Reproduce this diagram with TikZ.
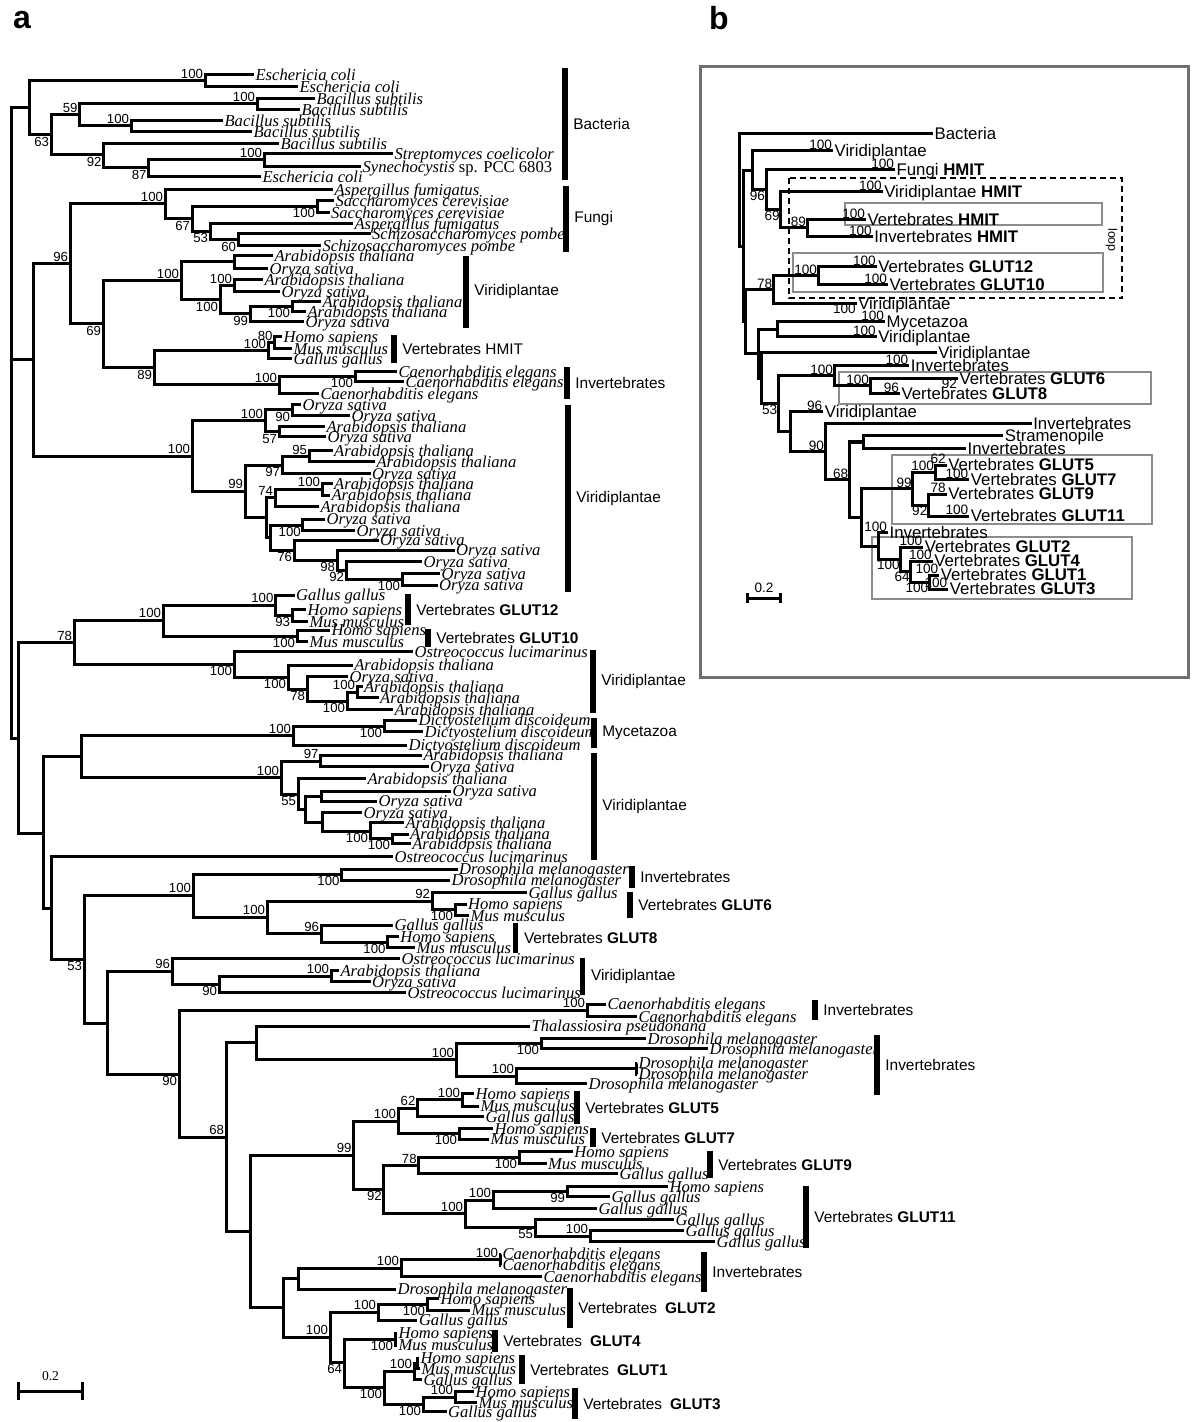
\documentclass[tikz,border=0pt]{standalone}
\usepackage{fontspec}
\setmainfont{Liberation Serif}
\setsansfont{Liberation Sans}
\usetikzlibrary{arrows.meta}
\definecolor{frm}{HTML}{707070}
\definecolor{gbx}{HTML}{8C8C8C}
% inner node: name, parent, x, y, support, label side
\newcommand{\nd}[6]{\coordinate (#1) at (#3,#4); \draw[br] (#2) |- (#1);
  \if\relax\detokenize{#5}\relax\else\node[bs,#6] (#1-bs) at (#1) {#5};\fi}
% leaf: name, parent, x, y, text
\newcommand{\lf}[5]{\node[sp] (#1) at (#3,#4) {#5}; \draw[br] (#2) |- (#1.west);}
% leaf with support value
\newcommand{\lfb}[7]{\node[sp] (#1) at (#3,#4) {#5}; \draw[br] (#2) |- (#1.west);
  \if\relax\detokenize{#6}\relax\else\node[bs,#7] (#1-bs) at (#1.west) {#6};\fi}
% group bar: name, x, top, bottom, label
\newcommand{\grp}[5]{\coordinate (#1t) at (#2,#3); \coordinate (#1b) at (#2,#4);
  \draw[bar] (#1t) -- (#1b); \node[gl] (#1l) at (#2,{(#3+#4)/2}) {#5};}

\begin{document}
\begin{tikzpicture}[
  x=0.5pt, y=-0.5pt,
  br/.style={line width=1.5pt, line join=miter},
  sp/.style={anchor=west, inner sep=0.6pt, font=\fontsize{8.3}{9}\selectfont\itshape, text height=1.6ex, text depth=.3ex},
  bs/.style={font=\sffamily\fontsize{6.6}{7}\selectfont, inner sep=0.8pt},
  bar/.style={line width=2.6pt},
  gl/.style={anchor=west, xshift=4pt, font=\sffamily\fontsize{7.7}{9}\selectfont, inner sep=0pt},
  gbox/.style={draw=gbx, line width=0.9pt},
  panel/.style={font=\sffamily\bfseries\fontsize{16}{18}\selectfont, inner sep=0pt}
]
\path[use as bounding box, fill=white] (0,0) rectangle (1200,1422);
\node[panel] (pa) at (22,20) {a};
\node[panel] (pb) at (719,18) {b};

% ---------- panel a ----------
\coordinate (ar) at (11,423);
% bacteria
\nd{bac}{ar}{29.5}{108}{}{}
\nd{ec}{bac}{205}{81}{100}{above left}
\lf{l1}{ec}{254}{74.5}{Eschericia coli}
\lf{l2}{ec}{298}{87}{Eschericia coli}
\nd{b63}{bac}{51}{135}{63}{below left}
\nd{b59}{b63}{79.5}{115}{59}{above left}
\nd{bs1}{b59}{257}{104}{100}{above left}
\lf{l3}{bs1}{315}{99}{Bacillus subtilis}
\lf{l4}{bs1}{300}{109.5}{Bacillus subtilis}
\nd{bs2}{b59}{131}{126}{100}{above left}
\lf{l5}{bs2}{223}{121}{Bacillus subtilis}
\lf{l6}{bs2}{252}{132}{Bacillus subtilis}
\nd{b92}{b63}{103.5}{155}{92}{below left}
\lf{l7}{b92}{279}{143.5}{Bacillus subtilis}
\nd{b87}{b92}{148.5}{168}{87}{below left}
\nd{st}{b87}{264}{160}{100}{above left}
\lf{l8}{st}{393}{154}{Streptomyces coelicolor}
\lf{l9}{st}{361}{166.5}{Synechocystis \textup{sp. PCC 6803}}
\lf{l10}{b87}{261}{177}{Eschericia coli}
\grp{gbac}{565}{68}{180}{Bacteria}
% fungi, plants, HMIT
\nd{c2}{ar}{33.5}{360}{}{}
\nd{n96}{c2}{70}{264}{96}{above left}
\nd{fun}{n96}{165}{204}{100}{above left}
\lf{l11}{fun}{333}{189.5}{Aspergillus fumigatus}
\nd{f67}{fun}{192}{219}{67}{below left}
\nd{sc}{f67}{317}{206.5}{100}{below left}
\lf{l12}{sc}{334}{200.7}{Saccharomyces cerevisiae}
\lf{l13}{sc}{329.5}{212.3}{Saccharomyces cerevisiae}
\nd{f53}{f67}{210}{231.7}{53}{below left}
\lf{l14}{f53}{353}{223.3}{Aspergillus fumigatus}
\nd{f60}{f53}{238}{240}{60}{below left}
\lf{l15}{f60}{370.5}{234}{Schizosaccharomyces pombe}
\lf{l16}{f60}{321}{246}{Schizosaccharomyces pombe}
\grp{gfun}{566}{186}{252}{Fungi}
\nd{n69}{n96}{103}{324}{69}{below left}
\nd{v1}{n69}{181}{281}{100}{above left}
\nd{v1a}{v1}{234}{262}{}{}
\lf{l17}{v1a}{273}{256}{Arabidopsis thaliana}
\lf{l18}{v1a}{268}{268.3}{Oryza sativa}
\nd{v1c}{v1}{220}{300}{100}{below left}
\nd{v1b}{v1c}{234}{286}{100}{above left}
\lf{l19}{v1b}{263}{280}{Arabidopsis thaliana}
\lf{l20}{v1b}{280}{291.7}{Oryza sativa}
\nd{v99}{v1c}{250}{314}{99}{below left}
\nd{v100}{v99}{292}{306.7}{100}{below left}
\lf{l21}{v100}{321}{301.7}{Arabidopsis thaliana}
\lf{l22}{v100}{306}{311.7}{Arabidopsis thaliana}
\lf{l23}{v99}{304}{321.7}{Oryza sativa}
\grp{gv1}{466}{256}{328}{Viridiplantae}
\nd{n89}{n69}{154}{368}{89}{below left}
\nd{hm}{n89}{268}{350.5}{100}{above left}
\nd{h80}{hm}{274.5}{342.5}{80}{above left}
\lf{l24}{h80}{282}{336.7}{Homo sapiens}
\lf{l25}{h80}{292}{348.3}{Mus musculus}
\lf{l26}{hm}{292}{358.3}{Gallus gallus}
\nd{ce}{n89}{279}{385}{100}{above left}
\nd{ce1}{ce}{355}{376.7}{100}{below left}
\lf{l27}{ce1}{397}{371.7}{Caenorhabditis elegans}
\lf{l28}{ce1}{404}{381.7}{Caenorhabditis elegans}
\lf{l29}{ce}{319}{394}{Caenorhabditis elegans}
\grp{ghm}{394}{335}{363}{Vertebrates HMIT}
\grp{gce}{567}{367}{399}{Invertebrates}
\nd{v2}{c2}{192}{456}{100}{above left}
\nd{v2a}{v2}{265}{421}{100}{above left}
\nd{v90}{v2a}{292}{410}{90}{below left}
\lf{l30}{v90}{301}{405}{Oryza sativa}
\lf{l31}{v90}{350}{415.7}{Oryza sativa}
\nd{v57}{v2a}{279}{432}{57}{below left}
\lf{l32}{v57}{325}{427}{Arabidopsis thaliana}
\lf{l33}{v57}{326}{436.7}{Oryza sativa}
\nd{v99b}{v2}{245}{491}{99}{above left}
\nd{v97}{v99b}{282}{465}{97}{below left}
\nd{v95}{v97}{309}{456.2}{95}{above left}
\lf{l34}{v95}{332.6}{450.7}{Arabidopsis thaliana}
\lf{l35}{v95}{375}{461.7}{Arabidopsis thaliana}
\lf{l36}{v97}{370.5}{473.3}{Oryza sativa}
\nd{vx}{v99b}{266}{517}{}{}
\nd{v74}{vx}{275}{497}{74}{above left}
\nd{v100e}{v74}{322}{489}{100}{above left}
\lf{l37}{v100e}{332.6}{483.3}{Arabidopsis thaliana}
\lf{l38}{v100e}{330}{495}{Arabidopsis thaliana}
\lf{l39}{v74}{319}{506.7}{Arabidopsis thaliana}
\nd{vy}{vx}{270}{537}{}{}
\nd{v100f}{vy}{302.7}{525}{100}{below left}
\lf{l40}{v100f}{325}{519}{Oryza sativa}
\lf{l41}{v100f}{355}{530.7}{Oryza sativa}
\nd{v76}{vy}{294}{550}{76}{below left}
\lf{l42}{v76}{378.6}{540}{Oryza sativa}
\nd{v98}{v76}{337}{560}{98}{below left}
\lf{l43}{v98}{454.5}{550}{Oryza sativa}
\nd{v92}{v98}{346}{570}{92}{below left}
\lf{l44}{v92}{422}{561.7}{Oryza sativa}
\nd{v100g}{v92}{402}{579}{100}{below left}
\lf{l45}{v100g}{440}{573.3}{Oryza sativa}
\lf{l46}{v100g}{437.5}{585}{Oryza sativa}
\grp{gv2}{568}{405}{592}{Viridiplantae}
% GLUT12/10 and the rest
\nd{c3}{ar}{18}{738}{}{}
\nd{n78}{c3}{74}{642.5}{78}{above left}
\nd{g1210}{n78}{163}{620}{100}{above left}
\nd{g12}{g1210}{275.4}{605}{100}{above left}
\lf{l47}{g12}{294.6}{595}{Gallus gallus}
\nd{g93}{g12}{292}{615.5}{93}{below left}
\lf{l48}{g93}{306}{609.3}{Homo sapiens}
\lf{l49}{g93}{308}{621.7}{Mus musculus}
\nd{g10}{g1210}{297}{636}{100}{below left}
\lf{l50}{g10}{330}{630}{Homo sapiens}
\lf{l51}{g10}{308}{641.7}{Mus musculus}
\grp{gg12}{408}{594}{625}{Vertebrates \textbf{GLUT12}}
\grp{gg10}{428}{629}{647}{Vertebrates \textbf{GLUT10}}
\nd{v3}{n78}{234}{664.5}{100}{below left}
\lf{l52}{v3}{413}{651.7}{Ostreococcus lucimarinus}
\nd{v3a}{v3}{288}{677}{100}{below left}
\lf{l53}{v3a}{352.7}{665}{Arabidopsis thaliana}
\nd{v78}{v3a}{307}{689}{78}{below left}
\lf{l54}{v78}{348}{676.7}{Oryza sativa}
\nd{v3b}{v78}{347}{701}{100}{below left}
\nd{v3c}{v3b}{357}{692}{100}{above left}
\lf{l55}{v3c}{362.5}{686.7}{Arabidopsis thaliana}
\lf{l56}{v3c}{378.6}{697.3}{Arabidopsis thaliana}
\lf{l57}{v3b}{393}{709.3}{Arabidopsis thaliana}
\grp{gv3}{593}{650}{713}{Viridiplantae}
\nd{n43}{c3}{43}{833}{}{}
\nd{n81}{n43}{81.7}{756.5}{}{}
\nd{my}{n81}{293}{735.5}{100}{above left}
\nd{my1}{my}{384}{726}{100}{below left}
\lf{l58}{my1}{417}{720}{Dictyostelium discoideum}
\lf{l59}{my1}{423}{731.7}{Dictyostelium discoideum}
\lf{l60}{my}{407}{745}{Dictyostelium discoideum}
\grp{gmy}{594}{718}{748}{Mycetazoa}
\nd{v4}{n81}{281}{777.5}{100}{above left}
\nd{v97b}{v4}{320.5}{761}{97}{above left}
\lf{l61}{v97b}{422}{755}{Arabidopsis thaliana}
\lf{l62}{v97b}{428.6}{766.7}{Oryza sativa}
\nd{v55}{v4}{298}{794}{55}{below left}
\lf{l63}{v55}{366}{778.3}{Arabidopsis thaliana}
\nd{v4a}{v55}{305}{809}{}{}
\nd{v4b}{v4a}{321}{796}{}{}
\lf{l64}{v4b}{451}{791}{Oryza sativa}
\lf{l65}{v4b}{377}{801}{Oryza sativa}
\nd{v4c}{v4a}{322}{822}{}{}
\lf{l66}{v4c}{362}{812.7}{Oryza sativa}
\nd{v4d}{v4c}{370}{831}{100}{below left}
\lf{l67}{v4d}{404}{822.7}{Arabidopsis thaliana}
\nd{v4e}{v4d}{392}{838.7}{100}{below left}
\lf{l68}{v4e}{408.5}{834}{Arabidopsis thaliana}
\lf{l69}{v4e}{410.7}{843.3}{Arabidopsis thaliana}
\grp{gv4}{594}{753}{860}{Viridiplantae}
\nd{n51}{n43}{51.7}{908}{}{}
\lf{l70}{n51}{393}{856.7}{Ostreococcus lucimarinus}
\nd{n53}{n51}{84}{959}{53}{below left}
\nd{g68}{n53}{193}{895}{100}{above left}
\nd{dm}{g68}{341.5}{874.5}{100}{below left}
\lf{l71}{dm}{457.6}{869}{Drosophila melanogaster}
\lf{l72}{dm}{450}{880}{Drosophila melanogaster}
\nd{g68b}{g68}{267}{917}{100}{above left}
\nd{gl6}{g68b}{432}{901}{92}{above left}
\lf{l73}{gl6}{527}{892.7}{Gallus gallus}
\nd{hm6}{gl6}{455}{909.5}{100}{below left}
\lf{l74}{hm6}{466.5}{904}{Homo sapiens}
\lf{l75}{hm6}{469}{915.3}{Mus musculus}
\nd{gl8}{g68b}{321}{933.5}{96}{above left}
\lf{l76}{gl8}{393}{925}{Gallus gallus}
\nd{hm8}{gl8}{387.5}{942}{100}{below left}
\lf{l77}{hm8}{398.7}{936.7}{Homo sapiens}
\lf{l78}{hm8}{415}{947.3}{Mus musculus}
\grp{gdm}{632}{866}{888}{Invertebrates}
\grp{gg6}{630}{892}{918}{Vertebrates \textbf{GLUT6}}
\grp{gg8}{515.6}{923}{953}{Vertebrates \textbf{GLUT8}}
\nd{nq}{n53}{107}{1023}{}{}
\nd{v5}{nq}{172}{971}{96}{above left}
\lf{l79}{v5}{400}{958.3}{Ostreococcus lucimarinus}
\nd{v90b}{v5}{219}{984}{90}{below left}
\nd{v5a}{v90b}{331}{976}{100}{above left}
\lf{l80}{v5a}{339}{970.7}{Arabidopsis thaliana}
\lf{l81}{v5a}{370.5}{981.7}{Oryza sativa}
\lf{l82}{v90b}{406}{992.7}{Ostreococcus lucimarinus}
\grp{gv5}{582.6}{958}{995}{Viridiplantae}
\nd{g90}{nq}{179}{1074}{90}{below left}
\nd{ce2}{g90}{587}{1010}{100}{above left}
\lf{l83}{ce2}{606}{1004}{Caenorhabditis elegans}
\lf{l84}{ce2}{637}{1016.7}{Caenorhabditis elegans}
\grp{gce2}{815}{1000}{1020}{Invertebrates}
\nd{g68c}{g90}{226}{1137}{68}{above left}
\nd{th}{g68c}{256}{1042.5}{}{}
\lf{l85}{th}{530}{1026}{Thalassiosira pseudonana}
\nd{dm2}{th}{456}{1059.5}{100}{above left}
\nd{dm2a}{dm2}{541}{1043}{100}{below left}
\lf{l86}{dm2a}{646}{1038.3}{Drosophila melanogaster}
\lf{l87}{dm2a}{708}{1048.3}{Drosophila melanogaster}
\nd{dm2b}{dm2}{516}{1076}{100}{above left}
\nd{dm2c}{dm2b}{636}{1068.5}{}{}
\lf{l88}{dm2c}{637}{1063}{Drosophila melanogaster}
\lf{l89}{dm2c}{637}{1074}{Drosophila melanogaster}
\lf{l90}{dm2b}{587}{1083.3}{Drosophila melanogaster}
\grp{gdm2}{877}{1035}{1095}{Invertebrates}
\nd{gb}{g68c}{250}{1231}{}{}
\nd{g99}{gb}{353.5}{1155}{99}{above left}
\nd{g100p}{g99}{398}{1121}{100}{above left}
\nd{g62}{g100p}{417.4}{1108}{62}{above left}
\nd{hm5}{g62}{462}{1099.7}{100}{above left}
\lf{l91}{hm5}{474}{1093.3}{Homo sapiens}
\lf{l92}{hm5}{479}{1106}{Mus musculus}
\lf{l93}{g62}{484}{1116.7}{Gallus gallus}
\nd{gl7}{g100p}{459}{1133.7}{100}{below left}
\lf{l94}{gl7}{493}{1128.5}{Homo sapiens}
\lf{l95}{gl7}{489}{1139}{Mus musculus}
\grp{gg5}{577}{1091}{1124}{Vertebrates \textbf{GLUT5}}
\grp{gg7}{593}{1128}{1147}{Vertebrates \textbf{GLUT7}}
\nd{g92}{g99}{383.7}{1189.6}{92}{below left}
\nd{gl9}{g92}{418.6}{1165.4}{78}{above left}
\nd{hm9}{gl9}{519}{1157.5}{100}{below left}
\lf{l96}{hm9}{572.7}{1151.7}{Homo sapiens}
\lf{l97}{hm9}{546.5}{1163.3}{Mus musculus}
\lf{l98}{gl9}{618}{1173.3}{Gallus gallus}
\grp{gg9}{710}{1151}{1178}{Vertebrates \textbf{GLUT9}}
\nd{gl11}{g92}{465}{1213.8}{100}{above left}
\nd{g11a}{gl11}{493}{1200}{100}{above left}
\nd{g11b}{g11a}{567}{1191.7}{99}{below left}
\lf{l99}{g11b}{668}{1186.7}{Homo sapiens}
\lf{l100}{g11b}{610}{1196.7}{Gallus gallus}
\lf{l101}{g11a}{597}{1208.3}{Gallus gallus}
\nd{g55}{gl11}{535}{1227.7}{55}{below left}
\lf{l102}{g55}{674}{1219.3}{Gallus gallus}
\nd{g11c}{g55}{590}{1236}{100}{above left}
\lf{l103}{g11c}{684}{1230.7}{Gallus gallus}
\lf{l104}{g11c}{715}{1241.7}{Gallus gallus}
\grp{gg11}{806}{1186}{1248}{Vertebrates \textbf{GLUT11}}
\nd{gl}{gb}{283}{1307.5}{}{}
\nd{i4}{gl}{298}{1278.5}{}{}
\nd{ce3}{i4}{401}{1268}{100}{above left}
\nd{ce3a}{ce3}{500}{1259.5}{100}{above left}
\lf{l105}{ce3a}{501}{1254}{Caenorhabditis elegans}
\lf{l106}{ce3a}{501}{1265}{Caenorhabditis elegans}
\lf{l107}{ce3}{542}{1276.7}{Caenorhabditis elegans}
\lf{l108}{i4}{396}{1289}{Drosophila melanogaster}
\grp{gce3}{704}{1252}{1292}{Invertebrates}
\nd{gv}{gl}{330}{1337}{100}{above left}
\nd{gl2}{gv}{378}{1312}{100}{above left}
\nd{hm2}{gl2}{427}{1304}{100}{below left}
\lf{l109}{hm2}{439}{1298.3}{Homo sapiens}
\lf{l110}{hm2}{470}{1310}{Mus musculus}
\lf{l111}{gl2}{417.4}{1320}{Gallus gallus}
\grp{gg2}{570}{1288}{1328}{Vertebrates\hspace{4pt}\textbf{GLUT2}}
\nd{n64}{gv}{344}{1362.5}{64}{below left}
\nd{gl4}{n64}{395}{1339}{100}{below left}
\lf{l112}{gl4}{397}{1333}{Homo sapiens}
\lf{l113}{gl4}{397}{1345}{Mus musculus}
\grp{gg4}{495}{1330}{1352}{Vertebrates\hspace{4pt}\textbf{GLUT4}}
\nd{gl13}{n64}{384}{1387.7}{100}{below left}
\nd{gl1}{gl13}{414}{1371}{100}{above left}
\nd{hm1}{gl1}{417}{1363}{}{}
\lf{l114}{hm1}{419}{1358}{Homo sapiens}
\lf{l115}{hm1}{420}{1368.3}{Mus musculus}
\lf{l116}{gl1}{422}{1379.3}{Gallus gallus}
\grp{gg1}{522}{1355}{1384}{Vertebrates\hspace{4pt}\textbf{GLUT1}}
\nd{gl3}{gl13}{423}{1404.4}{100}{below left}
\nd{hm3}{gl3}{455}{1397}{100}{above left}
\lf{l117}{hm3}{474}{1391.7}{Homo sapiens}
\lf{l118}{hm3}{477}{1402.7}{Mus musculus}
\lf{l119}{gl3}{446.5}{1411.7}{Gallus gallus}
\grp{gg3}{575}{1388}{1419}{Vertebrates\hspace{4pt}\textbf{GLUT3}}
% scale bar a
\coordinate (sa1) at (17,1391);
\coordinate (sa2) at (84,1391);
\draw[line width=1.5pt, {Bar[width=9pt]}-{Bar[width=9pt]}] (sa1) -- (sa2);
\node[anchor=south, font=\fontsize{6.8}{8}\selectfont, inner sep=0pt] (sal) at (50.5,1381) {0.2};

% ---------- panel b ----------
\draw[frm, line width=1.5pt] (700,67) rectangle (1188,677);
\begin{scope}[
  sp/.style={anchor=west, inner sep=0.6pt, font=\sffamily\fontsize{8.4}{9}\selectfont, text height=1.5ex, text depth=.25ex},
  bs/.style={font=\sffamily\fontsize{6.8}{7}\selectfont, inner sep=0.3pt}
]
\draw[gbox] (845,203.3) rectangle (1101.7,225);
\draw[gbox] (793.3,252.7) rectangle (1103.3,291.7);
\draw[gbox] (839.3,371.7) rectangle (1151,404);
\draw[gbox] (891.7,455) rectangle (1151.7,524);
\draw[gbox] (871.7,536.7) rectangle (1131.7,599.3);
\draw[line width=1pt, dash pattern=on 3pt off 2pt] (789,178.3) rectangle (1122.3,298.3);
\node[font=\sffamily\fontsize{6.2}{7}\selectfont, rotate=-90, inner sep=0pt] (loop) at (1111.5,240) {loop};
\coordinate (qR) at (739.5,190);
\lfb{qBac}{qR}{933}{134}{Bacteria}{}{}
\nd{qQ}{qR}{743}{247}{}{}
\nd{qV}{qQ}{752.7}{170.2}{}{}
\lfb{qVir1}{qV}{833}{150.7}{Viridiplantae}{100}{above left}
\nd{q96}{qV}{766}{189.7}{96}{below left}
\lfb{qFun}{q96}{895}{169.3}{Fungi \textbf{HMIT}}{100}{above left}
\nd{q69}{q96}{780.7}{210}{69}{below left}
\lfb{qVirH}{q69}{882.7}{191.7}{Viridiplantae \textbf{HMIT}}{100}{above left}
\nd{q89}{q69}{807}{228}{89}{above left}
\lfb{qVH}{q89}{866}{219.3}{Vertebrates \textbf{HMIT}}{100}{above left}
\lfb{qIH}{q89}{872.7}{236.7}{Invertebrates \textbf{HMIT}}{100}{above left}
\nd{qP0}{qQ}{745}{322}{}{}
\nd{q78}{qP0}{773.3}{289.6}{78}{above left}
\nd{qG}{q78}{818}{275.9}{100}{above left}
\lfb{qG12}{qG}{876.7}{266.7}{Vertebrates \textbf{GLUT12}}{100}{above left}
\lfb{qG10}{qG}{888}{285}{Vertebrates \textbf{GLUT10}}{100}{above left}
\lfb{qVir2}{q78}{856.7}{303.3}{Viridiplantae}{100}{below left}
\nd{qP1}{qP0}{758.3}{353.6}{}{}
\nd{qM}{qP1}{777.3}{329.2}{}{}
\lfb{qMy}{qM}{885}{321.7}{Mycetazoa}{100}{above left}
\lfb{qVir3}{qM}{876.7}{336.7}{Viridiplantae}{100}{above left}
\nd{qP2}{qP1}{761.7}{378.2}{}{}
\lfb{qVir4}{qP2}{936.7}{352.7}{Viridiplantae}{}{}
\nd{q53}{qP2}{778.3}{403.7}{53}{below left}
\nd{qT}{q53}{834}{375.9}{100}{above left}
\lfb{qInv1}{qT}{909.3}{366}{Invertebrates}{100}{above left}
\nd{qU}{qT}{870}{385.8}{100}{above left}
\lfb{qG6}{qU}{958}{378.3}{Vertebrates \textbf{GLUT6}}{92}{below left}
\lfb{qG8}{qU}{900}{393.3}{Vertebrates \textbf{GLUT8}}{96}{above left}
\nd{q96c}{q53}{790}{431.5}{}{}
\lfb{qVir5}{q96c}{823.3}{411.7}{Viridiplantae}{96}{above left}
\nd{q90}{q96c}{825}{451.4}{90}{above left}
\lfb{qInv2}{q90}{1031.7}{423.3}{Invertebrates}{}{}
\nd{q68}{q90}{849.3}{479.5}{68}{above left}
\nd{qS}{q68}{863.3}{442}{}{}
\lfb{qStr}{qS}{1003.3}{436}{Stramenopile}{}{}
\lfb{qInv3}{qS}{966}{448.3}{Invertebrates}{}{}
\nd{qB}{q68}{861.7}{517}{}{}
\nd{q99}{qB}{912.7}{488.5}{99}{above left}
\nd{qW}{q99}{935}{472}{100}{above left}
\lfb{qG5}{qW}{946.7}{465}{Vertebrates \textbf{GLUT5}}{62}{above left}
\lfb{qG7}{qW}{969.3}{479.3}{Vertebrates \textbf{GLUT7}}{100}{above left}
\nd{q92}{q99}{928.3}{505}{92}{below left}
\lfb{qG9}{q92}{946.7}{494}{Vertebrates \textbf{GLUT9}}{78}{above left}
\lfb{qG11}{q92}{969.3}{516}{Vertebrates \textbf{GLUT11}}{100}{above left}
\nd{qV2}{qB}{878.3}{546}{}{}
\lfb{qInv4}{qV2}{888}{532.7}{Invertebrates}{100}{above left}
\nd{qX}{qV2}{900.7}{559.2}{100}{below left}
\lfb{qG2}{qX}{923.3}{547}{Vertebrates \textbf{GLUT2}}{100}{above left}
\nd{q64}{qX}{910.7}{571.5}{64}{below left}
\lfb{qG4}{q64}{932.7}{561}{Vertebrates \textbf{GLUT4}}{100}{above left}
\nd{qY}{q64}{929.3}{582}{100}{below left}
\lfb{qG1}{qY}{939.3}{575}{Vertebrates \textbf{GLUT1}}{100}{above left}
\lfb{qG3}{qY}{948.3}{589}{Vertebrates \textbf{GLUT3}}{100}{above left}
% scale bar b
\coordinate (sb1) at (746,598.3);
\coordinate (sb2) at (781.7,598.3);
\draw[line width=1.5pt, {Bar[width=5pt]}-{Bar[width=5pt]}] (sb1) -- (sb2);
\node[anchor=south, font=\sffamily\fontsize{6.8}{8}\selectfont, inner sep=0pt] (sbl) at (764,593) {0.2};
\end{scope}
\end{tikzpicture}
\end{document}
